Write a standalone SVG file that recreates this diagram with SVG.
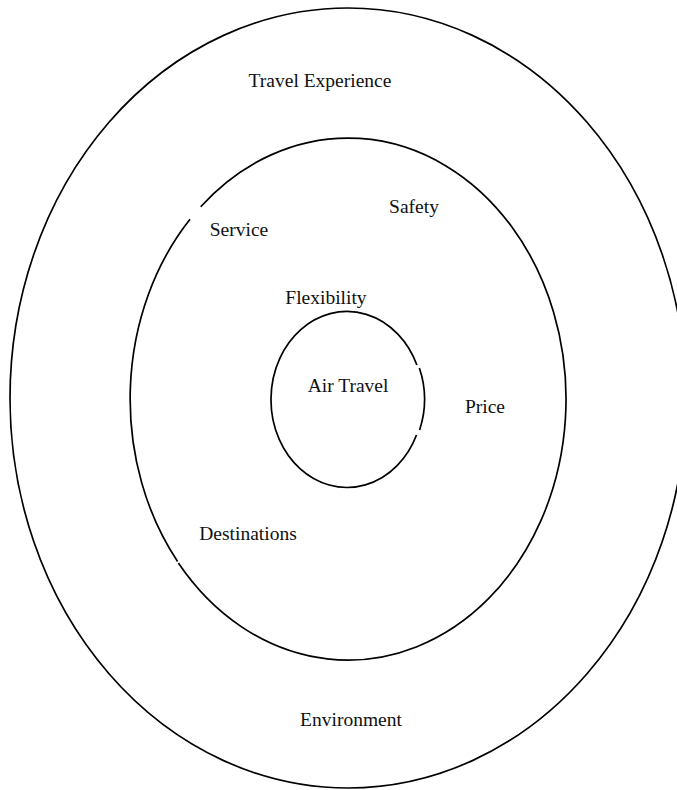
<svg xmlns="http://www.w3.org/2000/svg" width="677" height="790" viewBox="0 0 677 790">
  <style>
    .ring { fill: none; stroke: #000; stroke-width: 1.7; }
    .label { font-family: "Liberation Serif", "Times New Roman", serif; font-size: 19.5px; fill: #111; text-anchor: middle; }
  </style>
  <rect width="677" height="790" fill="#fff"/>

  <!-- Outer ring: Travel Experience / Environment -->
  <g id="outer-ring">
    <ellipse class="ring" cx="348" cy="398" rx="338" ry="390"/>
    <text class="label" x="320" y="87">Travel Experience</text>
    <text class="label" x="351" y="726">Environment</text>
  </g>

  <!-- Middle ring: Service, Safety, Price, Destinations, Flexibility -->
  <g id="middle-ring">
    <path class="ring" d="M 200.7 206.7 A 218 261 0 1 1 178.4 563"/>
    <path class="ring" d="M 177.6 561.5 A 218 261 0 0 1 190 219.3"/>
    <text class="label" x="239" y="236">Service</text>
    <text class="label" x="414" y="213">Safety</text>
    <text class="label" x="326" y="304">Flexibility</text>
    <text class="label" x="485" y="413">Price</text>
    <text class="label" x="248" y="540">Destinations</text>
  </g>

  <!-- Core: Air Travel -->
  <g id="core">
    <path class="ring" d="M 416.9 365 A 76 88 0 1 0 416.5 435"/>
    <path class="ring" d="M 419.4 368 A 77.5 88 0 0 1 419.6 430"/>
    <text class="label" x="348" y="392">Air Travel</text>
  </g>
</svg>
